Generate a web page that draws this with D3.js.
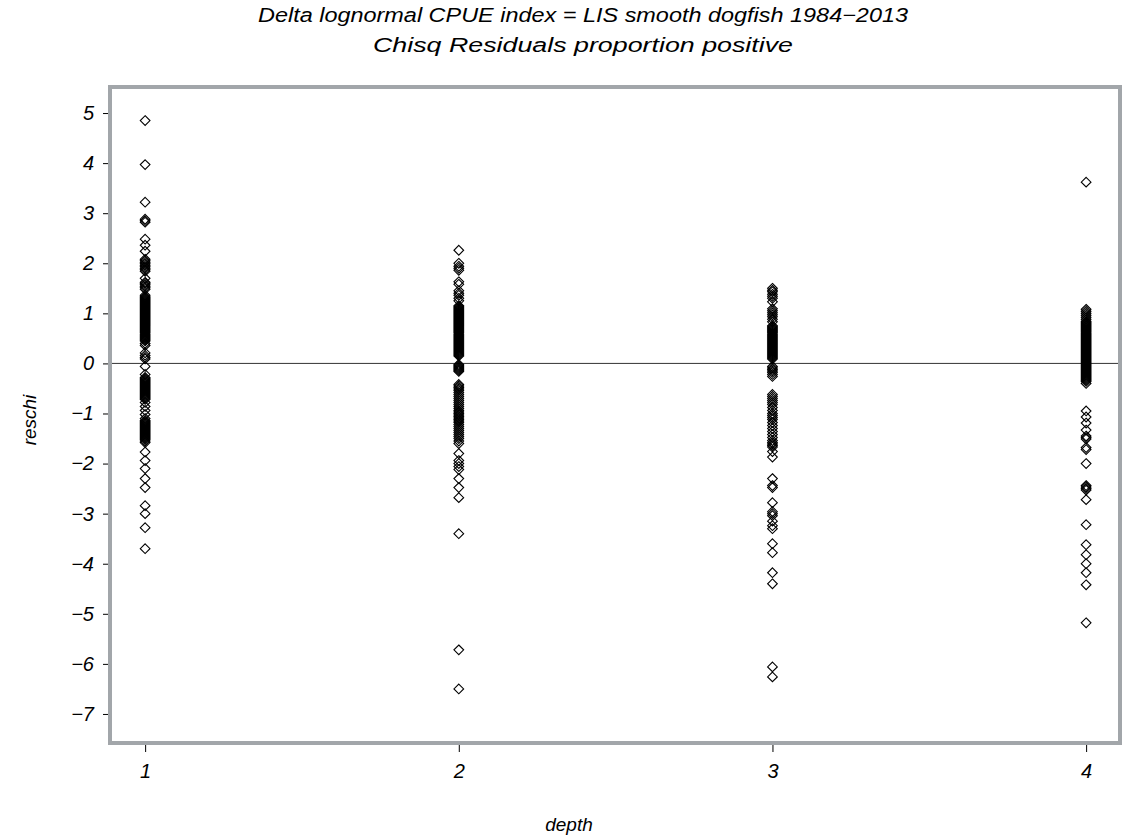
<!DOCTYPE html>
<html>
<head>
<meta charset="utf-8">
<script src="https://cdn.jsdelivr.net/npm/d3@7"></script>
<style>
  body { margin: 0; background: #fff; }
  svg { display: block; font-family: "Liberation Sans", Arial, sans-serif; font-style: italic; }
</style>
</head>
<body>
<svg width="1137" height="839"></svg>
<script>
// residuos chi-quadrado por faixa de profundidade
const titleLines = [
  "Delta lognormal CPUE index = LIS smooth dogfish 1984\u22122013",
  "Chisq Residuals proportion positive"
];
const xLabel = "depth";
const yLabel = "reschi";

const depths = [1, 2, 3, 4];
const yTicks = [5, 4, 3, 2, 1, 0, -1, -2, -3, -4, -5, -6, -7];

const reschiDepth1 = [
  4.85, 3.97, 3.22, 2.88, 2.85, 2.82, 2.48, 2.36, 2.24,
  2.08, 2.05, 2.02, 1.99, 1.96, 1.93, 1.90, 1.87, 1.84,
  1.70, 1.62, 1.60, 1.57, 1.54, 1.51, 1.48,
  1.36, 1.33, 1.31, 1.29, 1.27, 1.25, 1.23, 1.21, 1.19, 1.17, 1.15, 1.13, 1.11,
  1.09, 1.07, 1.05, 1.03, 1.01, 0.99, 0.97, 0.95, 0.93, 0.91, 0.89, 0.87, 0.85,
  0.83, 0.81, 0.79, 0.77, 0.75, 0.73, 0.71, 0.69, 0.67, 0.65, 0.63, 0.61, 0.59,
  0.57, 0.55, 0.53, 0.51, 0.49, 0.47, 0.45,
  0.40, 0.36, 0.21, 0.16, 0.12, 0.09,
  -0.06, -0.22, -0.28, -0.30, -0.32, -0.34, -0.36, -0.38, -0.40, -0.42, -0.44,
  -0.46, -0.48, -0.50, -0.52, -0.54, -0.56, -0.58, -0.60, -0.62, -0.64, -0.66,
  -0.68, -0.70, -0.72,
  -0.78, -0.86, -0.94, -1.02, -1.10,
  -1.14, -1.16, -1.18, -1.20, -1.22, -1.24, -1.26, -1.28, -1.30, -1.32, -1.34,
  -1.36, -1.38, -1.40, -1.42, -1.44, -1.46, -1.48, -1.50, -1.52, -1.55, -1.58,
  -1.77, -1.94, -2.10, -2.30, -2.48, -2.84, -3.00, -3.28, -3.70
];
const reschiDepth2 = [
  2.26, 2.00, 1.94, 1.90, 1.86, 1.63, 1.58, 1.45, 1.40, 1.36, 1.30, 1.25,
  1.15, 1.13, 1.11, 1.09, 1.07, 1.05, 1.03, 1.01, 0.99, 0.97, 0.95, 0.93, 0.91,
  0.89, 0.87, 0.85, 0.83, 0.81, 0.79, 0.77, 0.75, 0.73, 0.71, 0.69, 0.67, 0.65,
  0.63, 0.61, 0.59, 0.57, 0.55, 0.53, 0.51, 0.49, 0.47, 0.45, 0.43, 0.41, 0.39,
  0.37, 0.35, 0.33, 0.31, 0.29, 0.27, 0.25, 0.23, 0.21, 0.19, 0.17, 0.15,
  -0.02, -0.04, -0.06, -0.08, -0.10, -0.12, -0.14, -0.16,
  -0.42, -0.45, -0.48, -0.51, -0.54, -0.58, -0.62, -0.66, -0.70, -0.74, -0.78,
  -0.82, -0.86, -0.90, -0.94, -0.97, -1.00, -1.03, -1.06, -1.09, -1.12, -1.15,
  -1.18, -1.22, -1.26, -1.30, -1.34, -1.38, -1.42, -1.46, -1.50, -1.55, -1.60,
  -1.80, -1.94, -2.00, -2.06, -2.12, -2.30, -2.48, -2.68, -3.40, -5.72, -6.50
];
const reschiDepth3 = [
  1.50, 1.46, 1.43, 1.38, 1.34, 1.30, 1.23, 1.09, 1.05, 1.01, 0.97, 0.93, 0.88,
  0.83,
  0.75, 0.73, 0.71, 0.69, 0.67, 0.65, 0.63, 0.61, 0.59, 0.57, 0.55, 0.53, 0.51,
  0.49, 0.47, 0.45, 0.43, 0.41, 0.39, 0.37, 0.35, 0.33, 0.31, 0.29, 0.27, 0.25,
  0.23, 0.21, 0.19, 0.17, 0.15, 0.13, 0.11, 0.09,
  -0.06, -0.09, -0.12, -0.15, -0.18, -0.22, -0.26,
  -0.62, -0.66, -0.70, -0.74, -0.78, -0.82, -0.88, -0.94, -1.00, -1.04, -1.08,
  -1.12, -1.18, -1.24, -1.30, -1.36, -1.42, -1.48, -1.54, -1.58, -1.61, -1.64,
  -1.67, -1.76, -1.87,
  -2.30, -2.44, -2.48, -2.78, -2.96, -3.00, -3.04, -3.15, -3.24, -3.30, -3.60,
  -3.78, -4.18, -4.40, -6.06, -6.26
];
const reschiDepth4 = [
  3.62, 1.08, 1.04, 1.00, 0.96, 0.92, 0.88, 0.84,
  0.82, 0.80, 0.78, 0.76, 0.74, 0.72, 0.70, 0.68, 0.66, 0.64, 0.62, 0.60, 0.58,
  0.56, 0.54, 0.52, 0.50, 0.48, 0.46, 0.44, 0.42, 0.40, 0.38, 0.36, 0.34, 0.32,
  0.30, 0.28, 0.26, 0.24, 0.22, 0.20, 0.18, 0.16, 0.14, 0.12, 0.10, 0.08, 0.06,
  0.04, 0.02, 0.00, -0.02, -0.04, -0.06, -0.08, -0.10, -0.12, -0.14, -0.16,
  -0.18, -0.20, -0.22, -0.24, -0.26, -0.28, -0.30, -0.32, -0.34, -0.36,
  -0.40, -0.95, -1.07, -1.19, -1.33, -1.45, -1.48, -1.51, -1.68, -1.72, -2.00,
  -2.44, -2.47, -2.50, -2.53, -2.72, -3.22, -3.62, -3.82, -4.00, -4.18, -4.42,
  -5.18
];

const series = [reschiDepth1, reschiDepth2, reschiDepth3, reschiDepth4];
const points = series.flatMap((vals, i) => vals.map(v => ({ depth: depths[i], reschi: v })));

const svg = d3.select("svg");
const frame = { left: 110, right: 1120, top: 87, bottom: 743 };

const x = d3.scaleLinear().domain([0.888, 4.108]).range([frame.left, frame.right]);
const y = d3.scaleLinear().domain([-7.58, 5.52]).range([frame.bottom, frame.top]);

// titulo
const titleWidths = [650, 420];
svg.selectAll("text.title")
  .data(titleLines)
  .enter()
  .append("text")
  .attr("class", "title")
  .attr("x", 583)
  .attr("y", (d, i) => 22 + i * 30)
  .attr("text-anchor", "middle")
  .attr("textLength", (d, i) => titleWidths[i])
  .attr("lengthAdjust", "spacingAndGlyphs")
  .style("font-size", "20px")
  .text(d => d);

// eixos
const yAxis = svg.append("g")
  .attr("transform", `translate(${frame.left - 2},0)`)
  .call(d3.axisLeft(y).tickValues(yTicks).tickSize(5).tickPadding(9)
    .tickFormat(d => d < 0 ? "\u2212" + Math.abs(d) : String(d)));
yAxis.select(".domain").remove();
yAxis.selectAll("text").style("font-size", "20px").style("font-family", null).attr("fill", "#000");
yAxis.selectAll("line").attr("stroke", "#000");

const xAxis = svg.append("g")
  .attr("transform", `translate(0,${frame.bottom + 2})`)
  .call(d3.axisBottom(x).tickValues(depths).tickSize(7).tickPadding(12).tickFormat(d3.format("d")));
xAxis.select(".domain").remove();
xAxis.selectAll("text").style("font-size", "20px").style("font-family", null).attr("fill", "#000");
xAxis.selectAll("line").attr("stroke", "#000");

// linha de referencia em zero
svg.append("line")
  .attr("x1", frame.left).attr("x2", frame.right)
  .attr("y1", y(0)).attr("y2", y(0))
  .attr("stroke", "#333")
  .attr("stroke-width", 1);

// pontos
const diamond = d3.symbol().type(d3.symbolDiamond2).size(60);
svg.append("g")
  .selectAll("path")
  .data(points)
  .enter()
  .append("path")
  .attr("transform", d => `translate(${x(d.depth)},${y(d.reschi)})`)
  .attr("d", diamond)
  .attr("fill", "none")
  .attr("stroke", "#000")
  .attr("stroke-width", 1.1);

// moldura
svg.append("rect")
  .attr("x", frame.left).attr("y", frame.top)
  .attr("width", frame.right - frame.left)
  .attr("height", frame.bottom - frame.top)
  .attr("fill", "none")
  .attr("stroke", "#a2a6aa")
  .attr("stroke-width", 4);

// rotulos dos eixos
svg.append("text")
  .attr("x", 569).attr("y", 831)
  .attr("text-anchor", "middle")
  .style("font-size", "19px")
  .text(xLabel);

svg.append("text")
  .attr("transform", "translate(36,420) rotate(-90)")
  .attr("text-anchor", "middle")
  .style("font-size", "19px")
  .text(yLabel);
</script>
</body>
</html>
